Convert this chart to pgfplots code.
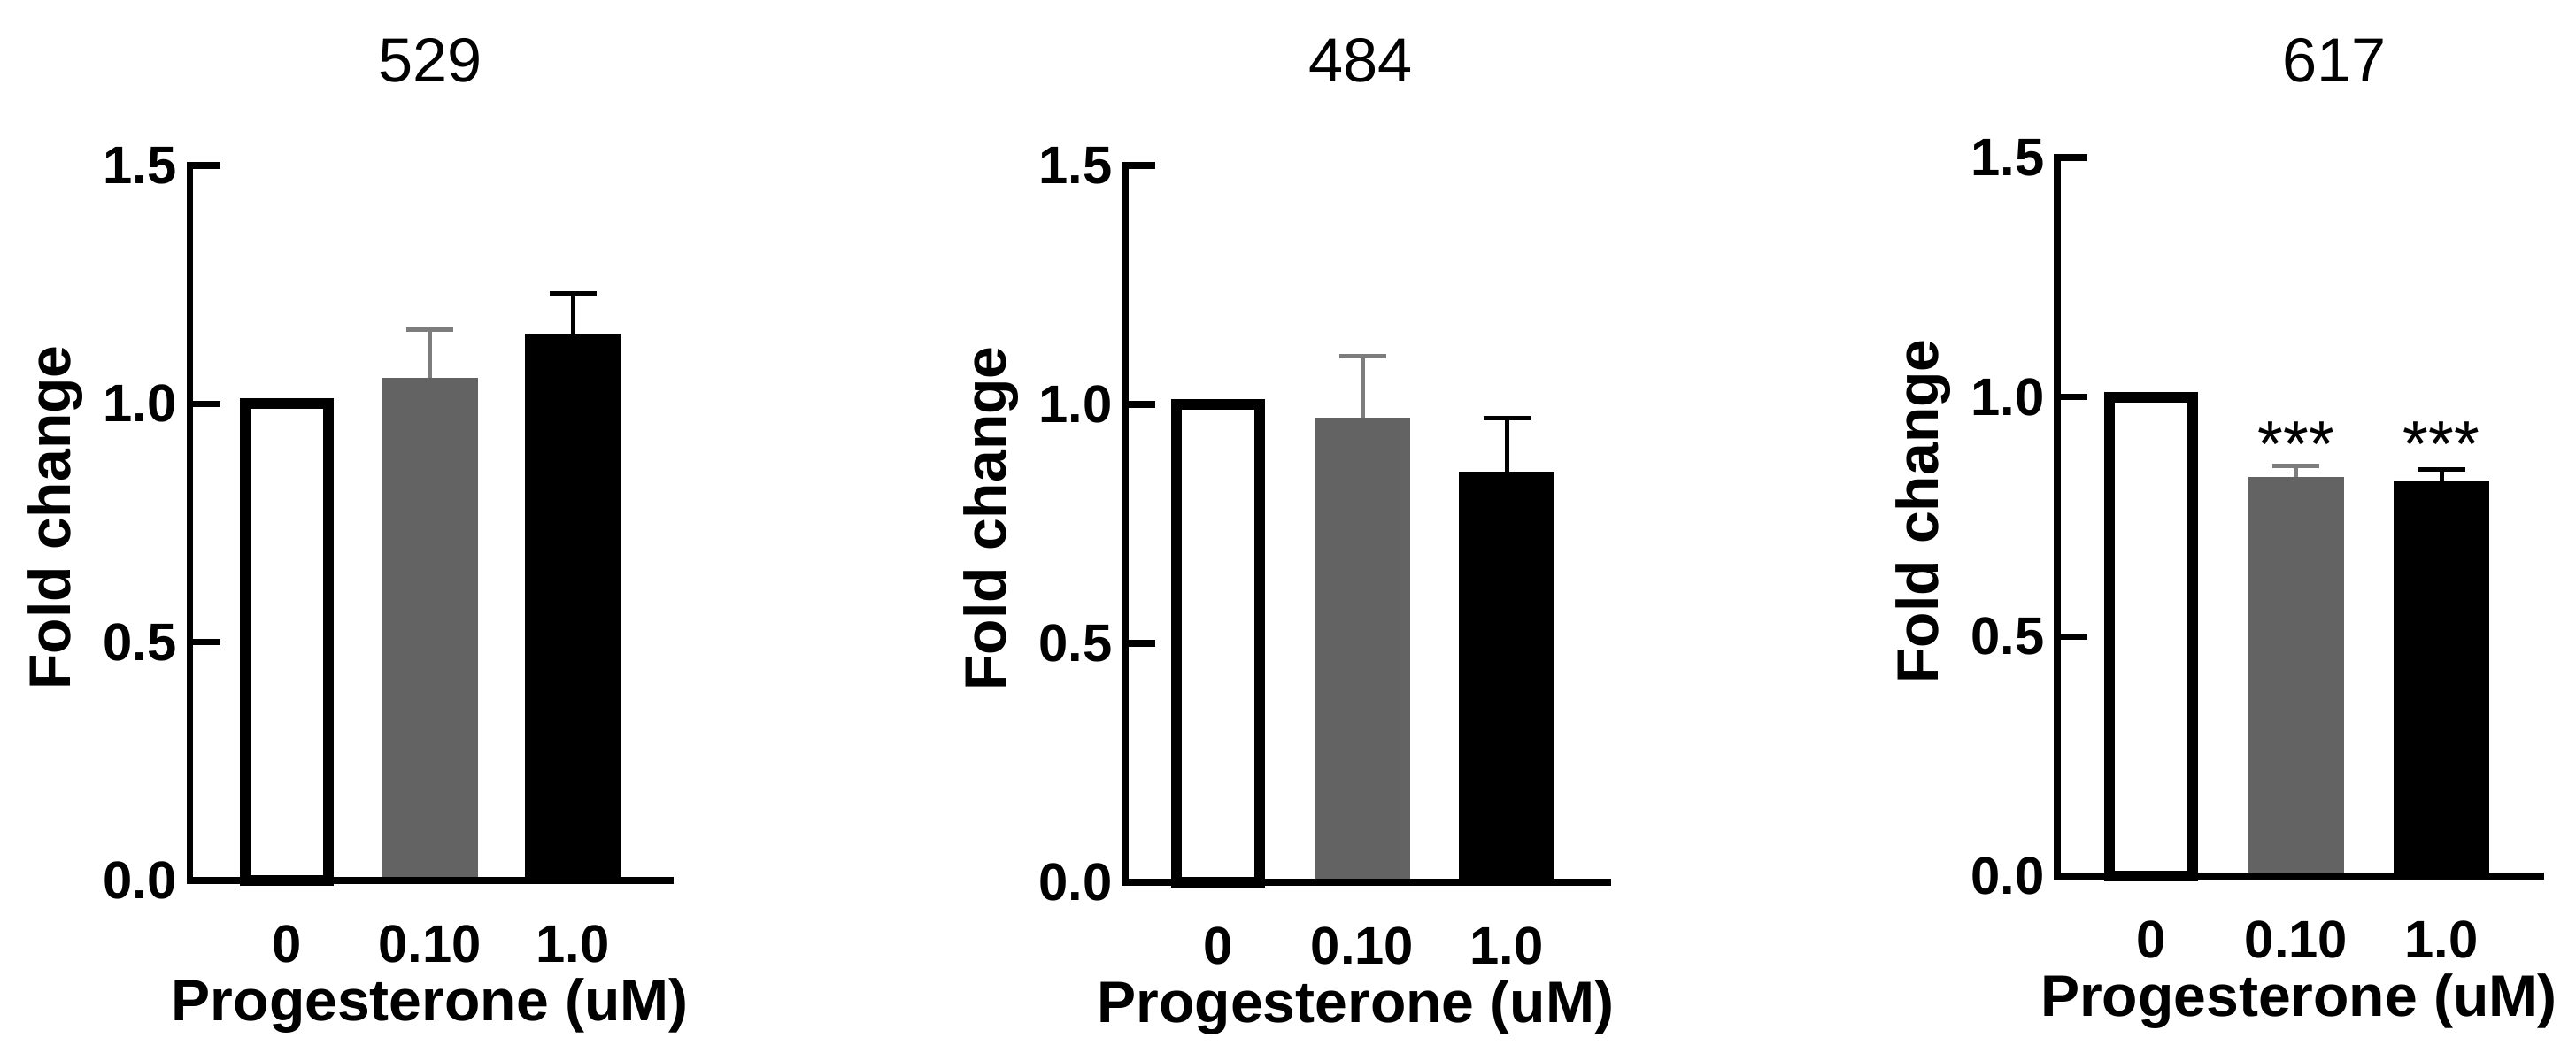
\documentclass[border=0pt]{standalone}
\usepackage{fontspec}
\setmainfont{Liberation Sans}
\usepackage{pgfplots}
\pgfplotsset{compat=1.18}

\definecolor{bargrey}{RGB}{99,99,99}
\definecolor{errgrey}{RGB}{125,125,125}

\pgfplotsset{
  foldpanel/.style={
    scale only axis,
    anchor=south west,
    axis lines=left,
    axis line style={-, line width=0.075cm, line cap=rect},
    axis on top,
    clip=false,
    ymin=0, ymax=1.5,
    ytick={0,0.5,1,1.5},
    yticklabels={0.0,0.5,1.0,1.5},
    xtick={0,1,2},
    xticklabels={0,0.10,1.0},
    tick align=inside,
    major tick length=0.34cm,
    ytick style={line width=0.075cm, black},
    xtick style={draw=none},
    tick label style={font=\bfseries\fontsize{17}{17}\selectfont},
    y tick label style={anchor=east, inner sep=0pt, xshift=-0.14cm},
    x tick label style={anchor=base, inner sep=0pt, yshift=-0.925cm},
    xlabel={Progesterone (uM)},
    ylabel={Fold change},
    every axis x label/.style={at={(axis description cs:0.5,0)}, anchor=base, yshift=-1.585cm,
      font=\bfseries\fontsize{18.8}{18.8}\selectfont},
    every axis y label/.style={at={(axis description cs:0,0.5)}, xshift=-1.345cm, yshift=0.06cm, rotate=90, anchor=base,
      font=\bfseries\fontsize{18.8}{18.8}\selectfont},
    title style={font=\fontsize{20}{20}\selectfont, at={(axis description cs:0.5,1)}, anchor=base},
  },
  whitebar/.style={ybar, bar shift=0pt, bar width=0.94cm, fill=white, draw=black, line width=0.12cm},
  greybar/.style={ybar, bar shift=0pt, bar width=1.08cm, fill=bargrey, draw=none,
    error bars/.cd, y dir=plus, y explicit,
    error bar style={draw=errgrey, line width=0.05cm},
    error mark options={rotate=90, mark size=0.265cm, line width=0.05cm, draw=errgrey}},
  blackbar/.style={ybar, bar shift=0pt, bar width=1.08cm, fill=black, draw=none,
    error bars/.cd, y dir=plus, y explicit,
    error bar style={draw=black, line width=0.05cm},
    error mark options={rotate=90, mark size=0.265cm, line width=0.05cm, draw=black}},
}

\begin{document}
\begin{tikzpicture}
\useasboundingbox (0,0) rectangle (29.1cm,11.99cm);

% 529
\begin{axis}[foldpanel, at={(2.145cm,2.04cm)}, width=5.425cm, height=8.08cm,
    xmin=-0.678, xmax=2.681, title={529}, title style={yshift=0.73cm}]
  \addplot[whitebar] coordinates {(0,1.0)};
  \addplot[greybar] coordinates {(1,1.054) +- (0,0.102)};
  \addplot[blackbar] coordinates {(2,1.148) +- (0,0.084)};
\end{axis}

% 484
\begin{axis}[foldpanel, at={(12.71cm,2.02cm)}, width=5.45cm, height=8.10cm,
    xmin=-0.644, xmax=2.699, title={484}, title style={xshift=-0.065cm, yshift=0.73cm},
    xlabel style={xshift=-0.12cm}]
  \addplot[whitebar] coordinates {(0,1.0)};
  \addplot[greybar] coordinates {(1,0.972) +- (0,0.128)};
  \addplot[blackbar] coordinates {(2,0.859) +- (0,0.113)};
\end{axis}

% 617
\begin{axis}[foldpanel, at={(23.24cm,2.09cm)}, width=5.46cm, height=8.12cm,
    xmin=-0.646, xmax=2.683, title={617}, title style={xshift=0.40cm, yshift=0.64cm}]
  \addplot[whitebar] coordinates {(0,1.0)};
  \addplot[greybar] coordinates {(1,0.834) +- (0,0.022)};
  \addplot[blackbar] coordinates {(2,0.826) +- (0,0.022)};
  \node[font=\fontsize{21}{21}\selectfont, anchor=base] at (axis cs:1,0.855) {***};
  \node[font=\fontsize{21}{21}\selectfont, anchor=base] at (axis cs:2,0.855) {***};
\end{axis}
\end{tikzpicture}
\end{document}
